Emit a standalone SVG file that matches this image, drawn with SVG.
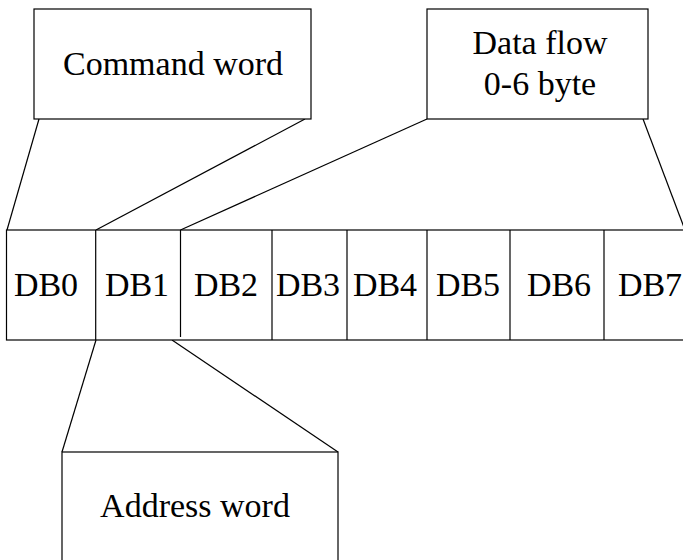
<svg xmlns="http://www.w3.org/2000/svg" width="683" height="560" viewBox="0 0 683 560" font-family="Liberation Serif, Tinos, DejaVu Serif, serif">
  <style>
    .box { fill: #fff; stroke: #000; stroke-width: 1.2; }
    .lbl { font-size: 34px; fill: #000; text-anchor: middle; }
    .ln { stroke: #000; stroke-width: 1.2; fill: none; }
  </style>
  <rect width="683" height="560" fill="#fff"/>

  <!-- connectors between the callout boxes and the byte row -->
  <g id="connectors">
    <line class="ln" x1="39" y1="119" x2="7" y2="230"/>
    <line class="ln" x1="305" y1="119" x2="96" y2="230"/>
    <line class="ln" x1="427" y1="119" x2="180.5" y2="230"/>
    <line class="ln" x1="643" y1="119" x2="685" y2="230"/>
    <line class="ln" x1="96" y1="340" x2="62" y2="452"/>
    <line class="ln" x1="172" y1="340" x2="338" y2="452"/>
  </g>

  <g id="command-word">
    <rect class="box" x="34" y="9" width="277" height="110"/>
    <text class="lbl" x="173" y="75">Command word</text>
  </g>

  <g id="data-flow">
    <rect class="box" x="427" y="9" width="221" height="110"/>
    <text class="lbl" x="540" y="54">Data flow</text>
    <text class="lbl" x="540" y="95">0-6 byte</text>
  </g>

  <g id="address-word">
    <rect class="box" x="62" y="452" width="276" height="120"/>
    <text class="lbl" x="195" y="517">Address word</text>
  </g>

  <!-- frame row DB0..DB7 -->
  <g id="byte-row">
    <rect class="box" x="6.5" y="230" width="700" height="110"/>
    <line class="ln" x1="95.7" y1="230" x2="95.7" y2="340"/>
    <line class="ln" x1="180.5" y1="230" x2="180.5" y2="337"/>
    <line class="ln" x1="272" y1="230" x2="272" y2="340"/>
    <line class="ln" x1="347" y1="230" x2="347" y2="340"/>
    <line class="ln" x1="427" y1="230" x2="427" y2="340"/>
    <line class="ln" x1="510" y1="230" x2="510" y2="340"/>
    <line class="ln" x1="604" y1="230" x2="604" y2="340"/>
    <text class="lbl" x="46" y="296">DB0</text>
    <text class="lbl" x="137" y="296">DB1</text>
    <text class="lbl" x="226" y="296">DB2</text>
    <text class="lbl" x="308" y="296">DB3</text>
    <text class="lbl" x="385" y="296">DB4</text>
    <text class="lbl" x="468" y="296">DB5</text>
    <text class="lbl" x="559" y="296">DB6</text>
    <text class="lbl" x="650" y="296">DB7</text>
  </g>
</svg>
